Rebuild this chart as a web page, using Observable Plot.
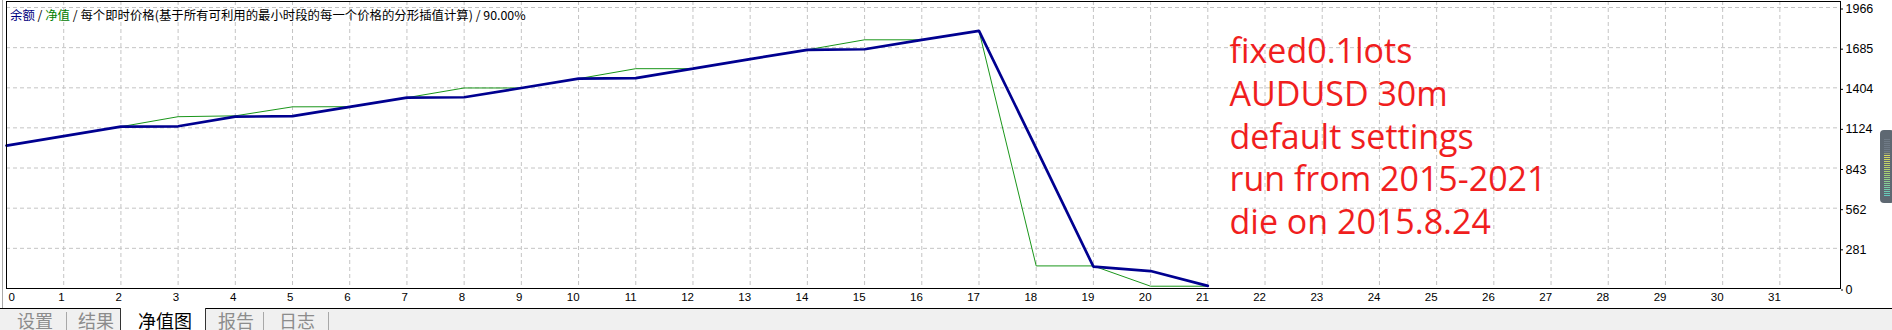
<!DOCTYPE html>
<html><head><meta charset="utf-8">
<script src="https://cdn.jsdelivr.net/npm/d3@7"></script>
<script src="https://cdn.jsdelivr.net/npm/@observablehq/plot@0.6"></script>
<style>
html,body{margin:0;padding:0;background:#fff;width:1892px;height:330px;overflow:hidden;}
#wrap{position:relative;width:1892px;height:330px;background:#fff;}
#chart{position:absolute;left:0;top:0;}
#edge{position:absolute;left:2px;top:0;width:1px;height:308px;background:#a8a8a8;}
#title{position:absolute;left:10px;top:7px;font-family:"Noto Sans CJK SC";font-size:12.4px;line-height:16px;color:#000;white-space:nowrap;}
#tabs{position:absolute;left:0;top:308px;width:1892px;height:22px;background:#f0f0f0;border-top:1px solid #000;box-sizing:border-box;}
.tab{position:absolute;top:1px;font-family:"Noto Sans CJK SC";font-size:18px;line-height:20px;color:#8c8c8c;white-space:nowrap;}
.sep{position:absolute;top:3px;width:1px;height:19px;background:#a8a8a8;}
#active{position:absolute;left:120px;top:-1px;width:84px;height:23px;background:#fff;border-left:1px solid #333;border-right:1px solid #333;}
#slider{position:absolute;left:1880px;top:130px;width:14px;height:73px;border-radius:4px;background:#5e6872;}
#slider div{position:absolute;left:4px;top:8px;width:6px;height:58px;background:repeating-linear-gradient(#5e6872 0 1px, transparent 1px 2px),linear-gradient(#6f7a86 0%, #6f7a86 25%, #d8d860 30%, #a8d070 60%, #60c8c0 100%);}
</style>
</head><body>
<div id="wrap">
  <div id="chart"></div>
  <div id="edge"></div>
  <div id="title"><span style="color:#000080">余额</span> / <span style="color:#008000">净值</span> / 每个即时价格(基于所有可利用的最小时段的每一个价格的分形插值计算) / 90.00%</div>
  <div id="slider"><div></div></div>
  <div id="tabs">
    <div class="tab" style="left:17px">设置</div>
    <div class="sep" style="left:66px"></div>
    <div class="tab" style="left:78px">结果</div>
    <div id="active"></div>
    <div class="tab" style="left:138px;color:#000">净值图</div>
    <div class="tab" style="left:218px">报告</div>
    <div class="sep" style="left:263px"></div>
    <div class="tab" style="left:279px">日志</div>
    <div class="sep" style="left:328px"></div>
  </div>
</div>
<script>
// trade number (x)
const trades = [0,1,2,3,4,5,6,7,8,9,10,11,12,13,14,15,16,17,18,19,20,21];
// balance (blue) and equity (green)
const balance = [1000,1066,1132,1135,1202,1206,1271,1335,1338,1403,1468,1472,1538,1605,1670,1674,1740,1803,980,153,122,18];
const equity  = [1000,1066,1132,1202,1208,1271,1272,1335,1403,1403,1468,1538,1538,1605,1670,1740,1740,1803,158,158,16,16];
// axis ticks
const xTicks = [0,1,2,3,4,5,6,7,8,9,10,11,12,13,14,15,16,17,18,19,20,21,22,23,24,25,26,27,28,29,30,31];
const yTicks = [0,281,562,843,1124,1404,1685,1966];
const yMax = 2008;
const xMax = 32.06;
// annotation
const annotationLines = ["fixed0.1lots","AUDUSD 30m","default settings","run from 2015-2021","die on 2015.8.24"];

const grid = {stroke:"#c4c4c4", strokeOpacity:1, strokeDasharray:"4,3"};
const chart = Plot.plot({
  width: 1892, height: 308,
  marginLeft: 6, marginRight: 52, marginTop: 1, marginBottom: 20,
  style: {background:"transparent", fontFamily:"Liberation Sans", color:"#000", overflow:"visible"},
  x: {domain:[0, xMax], axis:null},
  y: {domain:[0, yMax], axis:null},
  marks: [
    Plot.gridX(xTicks.slice(1), grid),
    Plot.gridY(yTicks.slice(1), grid),
    Plot.line(trades, {x: trades, y: equity, stroke:"#1a961a", strokeWidth:1}),
    Plot.line(trades, {x: trades, y: balance, stroke:"#000090", strokeWidth:2.7, strokeLinejoin:"miter"}),
    Plot.frame({stroke:"#000", strokeOpacity:1}),
    Plot.axisY(yTicks, {anchor:"right", tickSize:2, tickPadding:3, fontSize:12.5, dy:1.5, tickFormat:d => String(d), fill:"#000"}),
    Plot.axisX(xTicks.slice(1), {anchor:"bottom", tickSize:0, tickPadding:4, textAnchor:"end", dx:1, fontSize:11.5, tickFormat:d => String(d), fill:"#000"}),
    Plot.axisX([xTicks[0]], {anchor:"bottom", tickSize:0, tickPadding:4, textAnchor:"start", dx:2, fontSize:11.5, tickFormat:d => String(d), fill:"#000"}),
    Plot.text([annotationLines.join("\n")], {frameAnchor:"top-left", lineAnchor:"top", textAnchor:"start", dx:1223, dy:31, fontSize:34, lineHeight:1.26, fill:"#f01e1e", fontFamily:"Open Sans"})
  ]
});
document.getElementById("chart").appendChild(chart);
</script>
</body></html>
